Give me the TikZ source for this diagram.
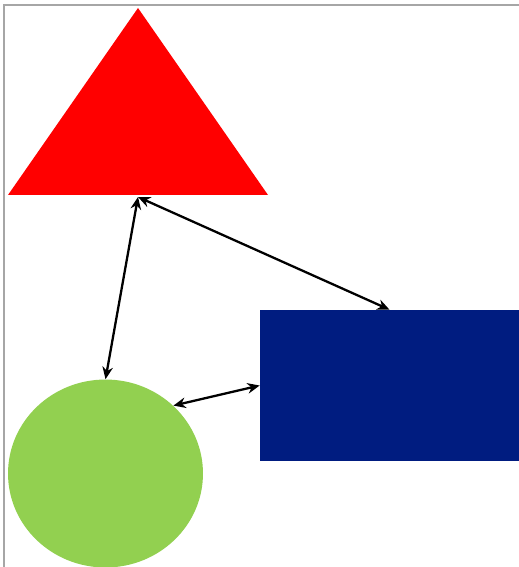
\documentclass[tikz,border=0pt]{standalone}
\usetikzlibrary{arrows.meta,shapes.geometric}
\definecolor{shapeRed}{RGB}{255,0,0}
\definecolor{shapeBlue}{RGB}{0,28,128}
\definecolor{shapeGreen}{RGB}{146,208,80}
\begin{document}
\begin{tikzpicture}[x=0.02cm,y=-0.02cm,
    linkArr/.style={{Stealth[length=7pt,width=6pt]}-{Stealth[length=7pt,width=6pt]},line width=1.3pt,black},
]
\useasboundingbox (0,0) rectangle (519,567);
% Frame
\draw[gray!70,line width=1.2pt] (4,567) -- (4,5) -- (519,5);
% Triangle
\fill[shapeRed] (8,195) -- (138,8) -- (268,195) -- cycle;
\coordinate (tri) at (138,197);
% Rectangle
\node[fill=shapeBlue,minimum width=5.18cm,minimum height=3.02cm,inner sep=0pt] (rect) at (389.5,385.5) {};
% Circle
\node[fill=shapeGreen,ellipse,minimum width=3.9cm,minimum height=3.76cm,inner sep=0pt] (circ) at (105.5,473.5) {};
% Links
\draw[linkArr] (tri) -- (rect.north);
\draw[linkArr] (tri) -- (circ.north);
\draw[linkArr] (circ.45) -- (rect.west);
\end{tikzpicture}
\end{document}
